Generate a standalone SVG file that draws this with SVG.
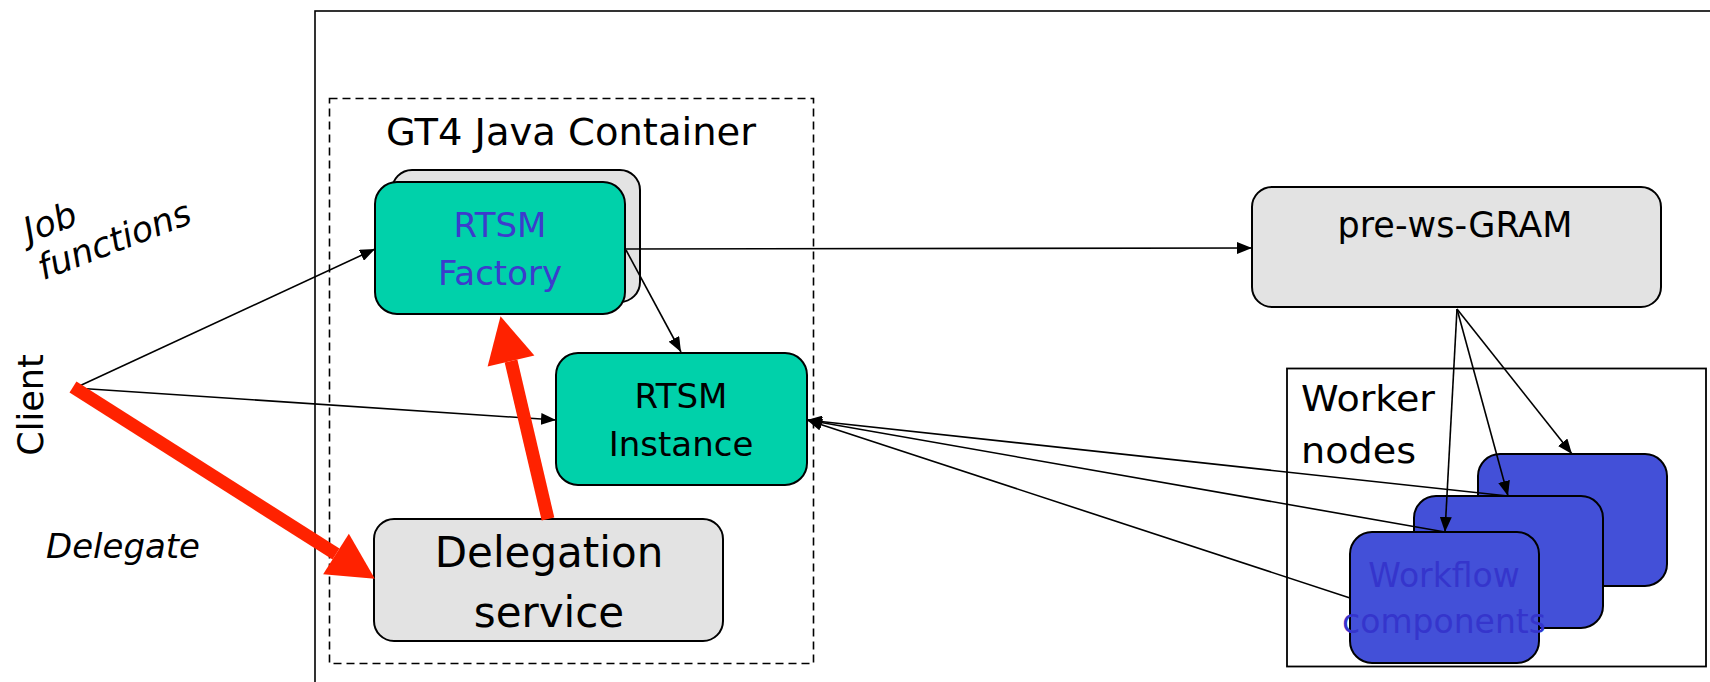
<svg xmlns="http://www.w3.org/2000/svg" width="1710" height="682" viewBox="0 0 1710 682">
  <style>
    text { font-family: "DejaVu Sans", Verdana, sans-serif; fill: #000; }
    .box { stroke: #000; stroke-width: 2; }
    .teal { fill: #00d1aa; }
    .grey { fill: #e3e3e3; }
    .blue { fill: #4350d8; }
    .conn { stroke: #000; stroke-width: 1.6; fill: none; marker-end: url(#arrow); }
    .red { stroke: #ff2200; stroke-width: 13; fill: none; marker-end: url(#bigArrow); }
    .lbl { font-size: 34px; text-anchor: middle; }
    .it { font-style: italic; font-size: 34px; }
  </style>
  <defs>
    <marker id="arrow" markerUnits="userSpaceOnUse" markerWidth="16" markerHeight="12" refX="15" refY="6" orient="auto">
      <path d="M0,0 L15,6 L0,12 z" fill="#000"/>
    </marker>
    <marker id="bigArrow" markerUnits="userSpaceOnUse" markerWidth="48" markerHeight="50" refX="0" refY="25" orient="auto" overflow="visible">
      <path d="M0,1 L46,25 L0,49 z" fill="#ff2200"/>
    </marker>
  </defs>

  <rect width="1710" height="682" fill="#fff"/>

  <!-- outer system frame -->
  <rect id="frame" x="315" y="11" width="1420" height="700" fill="none" stroke="#000" stroke-width="1.6"/>

  <!-- GT4 container -->
  <g id="container">
    <rect x="329.5" y="98.5" width="484" height="565" fill="none" stroke="#000" stroke-width="1.6" stroke-dasharray="8,5"/>
    <text x="386" y="145" font-size="37" textLength="370" lengthAdjust="spacingAndGlyphs">GT4 Java Container</text>
  </g>

  <!-- RTSM Factory (stacked) -->
  <g id="factory">
    <rect class="box grey" x="392" y="170" width="248" height="132" rx="20"/>
    <rect class="box teal" x="375" y="182" width="250" height="132" rx="22"/>
    <text class="lbl" x="500" y="237" style="fill:#3c3ccc">RTSM</text>
    <text class="lbl" x="500" y="285" style="fill:#3c3ccc">Factory</text>
  </g>

  <!-- RTSM Instance -->
  <g id="instance">
    <rect class="box teal" x="556" y="353" width="251" height="132" rx="22"/>
    <text class="lbl" x="681" y="408">RTSM</text>
    <text class="lbl" x="681" y="456">Instance</text>
  </g>

  <!-- Delegation service -->
  <g id="delegation">
    <rect class="box grey" x="374" y="519" width="349" height="122" rx="20"/>
    <text class="lbl" x="549" y="567" style="font-size:42px">Delegation</text>
    <text class="lbl" x="549" y="627" style="font-size:42px">service</text>
  </g>

  <!-- pre-ws-GRAM -->
  <g id="gram">
    <rect class="box grey" x="1252" y="187" width="409" height="120" rx="20"/>
    <text class="lbl" x="1455" y="237" style="font-size:35px">pre-ws-GRAM</text>
  </g>

  <!-- Worker nodes -->
  <g id="workers">
    <rect x="1287" y="368.5" width="419" height="298" fill="none" stroke="#000" stroke-width="1.8"/>
    <text x="1301" y="411" font-size="35" textLength="134" lengthAdjust="spacingAndGlyphs">Worker</text>
    <text x="1301" y="463" font-size="35" textLength="115" lengthAdjust="spacingAndGlyphs">nodes</text>
  </g>
  <g id="worker3">
    <rect class="box blue" x="1478" y="454" width="189" height="132" rx="22"/>
  </g>
  <g id="worker2">
    <rect class="box blue" x="1414" y="496" width="189" height="132" rx="22"/>
  </g>
  <g id="worker1">
    <rect class="box blue" x="1350" y="532" width="189" height="131" rx="22"/>
    <text class="lbl" x="1444" y="587" style="font-size:33px;fill:#3535cc">Workflow</text>
    <text class="lbl" x="1444" y="633" style="font-size:33px;fill:#3535cc">components</text>
  </g>

  <!-- side labels -->
  <g id="labels">
    <g transform="translate(29,243) rotate(-21)">
      <text class="it" x="0" y="0" style="font-size:35px">Job</text>
      <text class="it" x="0" y="40" style="font-size:35px">functions</text>
    </g>
    <text transform="translate(43,405) rotate(-90)" font-size="35" text-anchor="middle">Client</text>
    <text class="it" x="46" y="558" textLength="154" lengthAdjust="spacingAndGlyphs">Delegate</text>
  </g>

  <!-- connectors -->
  <g id="connectors">
    <line class="conn" x1="75" y1="388" x2="375" y2="249"/>
    <line class="conn" x1="75" y1="388" x2="556" y2="420"/>
    <line class="conn" x1="625" y1="249" x2="1252" y2="248"/>
    <line class="conn" x1="626" y1="250" x2="681" y2="352"/>
    <line class="conn" x1="1457" y1="309" x2="1445" y2="532"/>
    <line class="conn" x1="1457" y1="309" x2="1508" y2="496"/>
    <line class="conn" x1="1457" y1="309" x2="1572" y2="454"/>
    <line class="conn" x1="1508" y1="496" x2="807" y2="420"/>
    <line class="conn" x1="1445" y1="532" x2="807" y2="420"/>
    <line class="conn" x1="1350" y1="598" x2="807" y2="420"/>
    <line class="red" x1="73" y1="387" x2="336" y2="554"/>
    <line class="red" x1="548" y1="519" x2="511" y2="361"/>
  </g>
</svg>
